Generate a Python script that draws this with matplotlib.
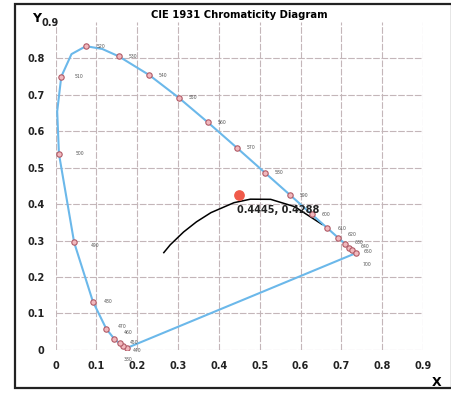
import matplotlib
matplotlib.use('Agg')
import matplotlib.pyplot as plt
from matplotlib.patches import Rectangle

# spectral locus (line) - chromaticity coords
locus_x = [0.1741, 0.1644, 0.1566, 0.1440, 0.1241, 0.0913, 0.0454, 0.0082, 0.0039, 0.0139,
           0.0389, 0.0743, 0.1142, 0.1547, 0.2296, 0.3016, 0.3731, 0.4441, 0.5125, 0.5752,
           0.6270, 0.6658, 0.6915, 0.7079, 0.7190, 0.7260, 0.7347]
locus_y = [0.0050, 0.0109, 0.0177, 0.0297, 0.0578, 0.1327, 0.2950, 0.5384, 0.6548, 0.7502,
           0.8120, 0.8338, 0.8262, 0.8059, 0.7543, 0.6923, 0.6245, 0.5547, 0.4866, 0.4242,
           0.3725, 0.3340, 0.3083, 0.2920, 0.2809, 0.2740, 0.2653]

# marked wavelengths
wl = [380, 440, 450, 460, 470, 480, 490, 500, 510, 520, 530, 540, 550, 560, 570,
      580, 590, 600, 610, 620, 630, 640, 650, 700]
wl_x = [0.1741, 0.1644, 0.1566, 0.1440, 0.1241, 0.0913, 0.0454, 0.0082, 0.0139, 0.0743,
        0.1547, 0.2296, 0.3016, 0.3731, 0.4441, 0.5125, 0.5752, 0.6270, 0.6658, 0.6915,
        0.7079, 0.7190, 0.7260, 0.7347]
wl_y = [0.0050, 0.0109, 0.0177, 0.0297, 0.0578, 0.1327, 0.2950, 0.5384, 0.7502, 0.8338,
        0.8059, 0.7543, 0.6923, 0.6245, 0.5547, 0.4866, 0.4242, 0.3725, 0.3340, 0.3083,
        0.2920, 0.2809, 0.2740, 0.2653]

# black-body curve
planck_x = [0.265, 0.2807, 0.3135, 0.3451, 0.3805, 0.4369, 0.4770, 0.5267, 0.5857, 0.6528]
planck_y = [0.267, 0.2884, 0.3237, 0.3516, 0.3768, 0.4041, 0.4137, 0.4133, 0.3931, 0.3444]

point = (0.4485, 0.424)
point_label = '0.4445, 0.4288'

ticks = [0, 0.1, 0.2, 0.3, 0.4, 0.5, 0.6, 0.7, 0.8, 0.9]
tick_labels = ['0', '0.1', '0.2', '0.3', '0.4', '0.5', '0.6', '0.7', '0.8', '0.9']

fig = plt.figure(figsize=(4.52, 3.94), dpi=100)
ax = fig.add_axes([0.123, 0.112, 0.813, 0.832])

# outer frame of the scanned figure
fig.patches.append(Rectangle((15 / 452, 1 - 388 / 394), 437 / 452, 384 / 394,
                             transform=fig.transFigure, fill=False, ec='#222222', lw=1.6))

ax.plot(locus_x, locus_y, color='#6bb8ea', lw=1.5, zorder=3)
ax.plot([wl_x[0], wl_x[-1]], [wl_y[0], wl_y[-1]], color='#6bb8ea', lw=1.5, zorder=3)
ax.scatter(wl_x, wl_y, s=15, facecolor='#f2b8bd', edgecolor='#b05a66', lw=0.8, zorder=4)

# wavelength labels
offs = {380: (-2, -8), 440: (7, -3), 450: (7, 1), 460: (7, 5), 470: (8, 2),
        480: (8, 0), 490: (12, -2), 500: (12, 0), 510: (10, 0), 520: (8, 0),
        620: (7, 2), 630: (7, 1), 640: (8, 1), 650: (8, -1), 700: (5, -8)}
for w, xx, yy in zip(wl, wl_x, wl_y):
    ax.annotate(str(w), (xx, yy), xytext=offs.get(w, (7, 0)), textcoords='offset points',
                fontsize=3.3, color='#555555', va='center', ha='left', zorder=5)

ax.plot(planck_x, planck_y, color='black', lw=1.1, zorder=2)
ax.scatter([point[0]], [point[1]], s=45, color='#f05a4a', zorder=5)
ax.text(0.4445, 0.385, point_label, fontsize=7, fontweight='bold', color='#222222',
        va='center', ha='left', zorder=6)

ax.set_xlim(0, 0.9)
ax.set_ylim(0, 0.9)
ax.set_xticks(ticks)
ax.set_yticks(ticks[:-1])
ax.set_xticklabels(tick_labels, fontsize=7, fontweight='bold', color='#222222')
ax.set_yticklabels(tick_labels[:-1], fontsize=7, fontweight='bold', color='#222222')
ax.tick_params(length=0, pad=8)
for s in ax.spines.values():
    s.set_visible(False)
ax.grid(True, color='#c4b6b9', lw=0.8, ls=(0, (6, 1.5)))
ax.set_axisbelow(True)

ax.set_title('CIE 1931 Chromaticity Diagram', fontsize=7.2, fontweight='bold', pad=3)
fig.text(37 / 452, 1 - 18 / 394, 'Y', fontsize=9, fontweight='bold', ha='center', va='center')
fig.text(42 / 452, 1 - 23 / 394, '0.9', fontsize=7, fontweight='bold', ha='left', va='center',
         color='#222222')
fig.text(437 / 452, 1 - 382 / 394, 'X', fontsize=9, fontweight='bold', ha='center', va='center')

fig.savefig('out.png', dpi=100)
